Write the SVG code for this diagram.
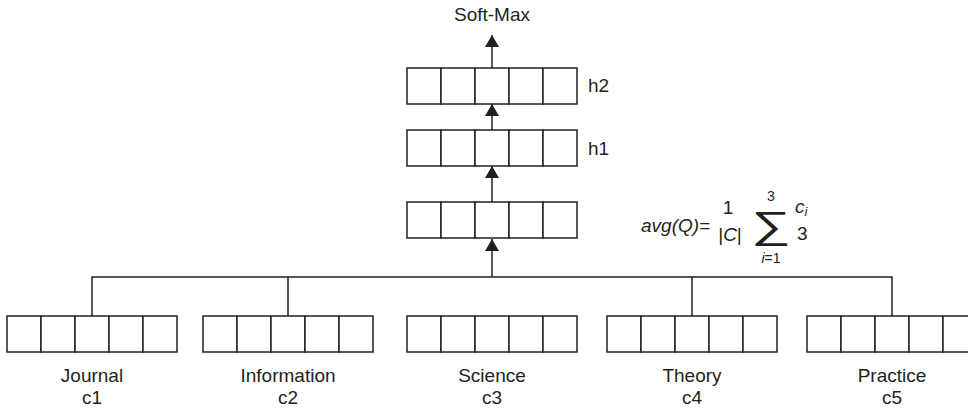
<svg xmlns="http://www.w3.org/2000/svg" width="968" height="409" viewBox="0 0 968 409">
  <style>
    .cell { fill: #fff; stroke: #231f20; stroke-width: 1.5; }
    .wire { fill: none; stroke: #231f20; stroke-width: 1.5; }
    .lbl { font-family: "Liberation Sans", Arial, sans-serif; font-size: 19px; fill: #231f20; }
    .mid { text-anchor: middle; }
    .it { font-style: italic; }
  </style>
  <defs>
    <!-- one vector = five square cells -->
    <g id="vec">
      <rect class="cell" x="0" y="0" width="34" height="36"/>
      <rect class="cell" x="34" y="0" width="34" height="36"/>
      <rect class="cell" x="68" y="0" width="34" height="36"/>
      <rect class="cell" x="102" y="0" width="34" height="36"/>
      <rect class="cell" x="136" y="0" width="34" height="36"/>
    </g>
    <marker id="arr" viewBox="0 0 12 14" refX="12" refY="7" markerWidth="12" markerHeight="14" markerUnits="userSpaceOnUse" orient="auto">
      <path d="M0,0 L12,7 L0,14 Z" fill="#231f20"/>
    </marker>
  </defs>

  <!-- connectors -->
  <g id="connectors">
    <path class="wire" d="M92,316 V277 H892 V316"/>
    <path class="wire" d="M288,316 V277"/>
    <path class="wire" d="M692,316 V277"/>
    <path class="wire" d="M492,277 V239" marker-end="url(#arr)"/>
    <path class="wire" d="M492,202 V166" marker-end="url(#arr)"/>
    <path class="wire" d="M492,130 V104" marker-end="url(#arr)"/>
    <path class="wire" d="M492,68 V35" marker-end="url(#arr)"/>
  </g>

  <g id="softmax">
    <text class="lbl mid" x="492" y="21">Soft-Max</text>
  </g>

  <g id="h2">
    <use href="#vec" x="407" y="68"/>
    <text class="lbl" x="588" y="92">h2</text>
  </g>

  <g id="h1">
    <use href="#vec" x="407" y="130"/>
    <text class="lbl" x="588" y="155">h1</text>
  </g>

  <g id="avg">
    <use href="#vec" x="407" y="202"/>
  </g>

  <g id="formula" class="lbl" font-size="20">
    <text class="it" x="641" y="232">avg(Q)=</text>
    <text class="mid" x="728" y="214">1</text>
    <text class="mid" x="730" y="241">|<tspan class="it">C</tspan>|</text>
    <text class="mid" transform="translate(771,238) scale(1.45,1)" font-size="38">∑</text>
    <text class="mid" x="771" y="201" font-size="14">3</text>
    <text class="mid" x="771" y="263" font-size="14"><tspan class="it">i</tspan>=1</text>
    <text class="it" x="795" y="213">c<tspan font-size="13" dy="3">i</tspan></text>
    <text x="797" y="240">3</text>
  </g>

  <g id="c1">
    <use href="#vec" x="7" y="316"/>
    <text class="lbl mid" x="92" y="382">Journal</text>
    <text class="lbl mid" x="92" y="404">c1</text>
  </g>

  <g id="c2">
    <use href="#vec" x="203" y="316"/>
    <text class="lbl mid" x="288" y="382">Information</text>
    <text class="lbl mid" x="288" y="404">c2</text>
  </g>

  <g id="c3">
    <use href="#vec" x="407" y="316"/>
    <text class="lbl mid" x="492" y="382">Science</text>
    <text class="lbl mid" x="492" y="404">c3</text>
  </g>

  <g id="c4">
    <use href="#vec" x="607" y="316"/>
    <text class="lbl mid" x="692" y="382">Theory</text>
    <text class="lbl mid" x="692" y="404">c4</text>
  </g>

  <g id="c5">
    <use href="#vec" x="807" y="316"/>
    <text class="lbl mid" x="892" y="382">Practice</text>
    <text class="lbl mid" x="892" y="404">c5</text>
  </g>
</svg>
